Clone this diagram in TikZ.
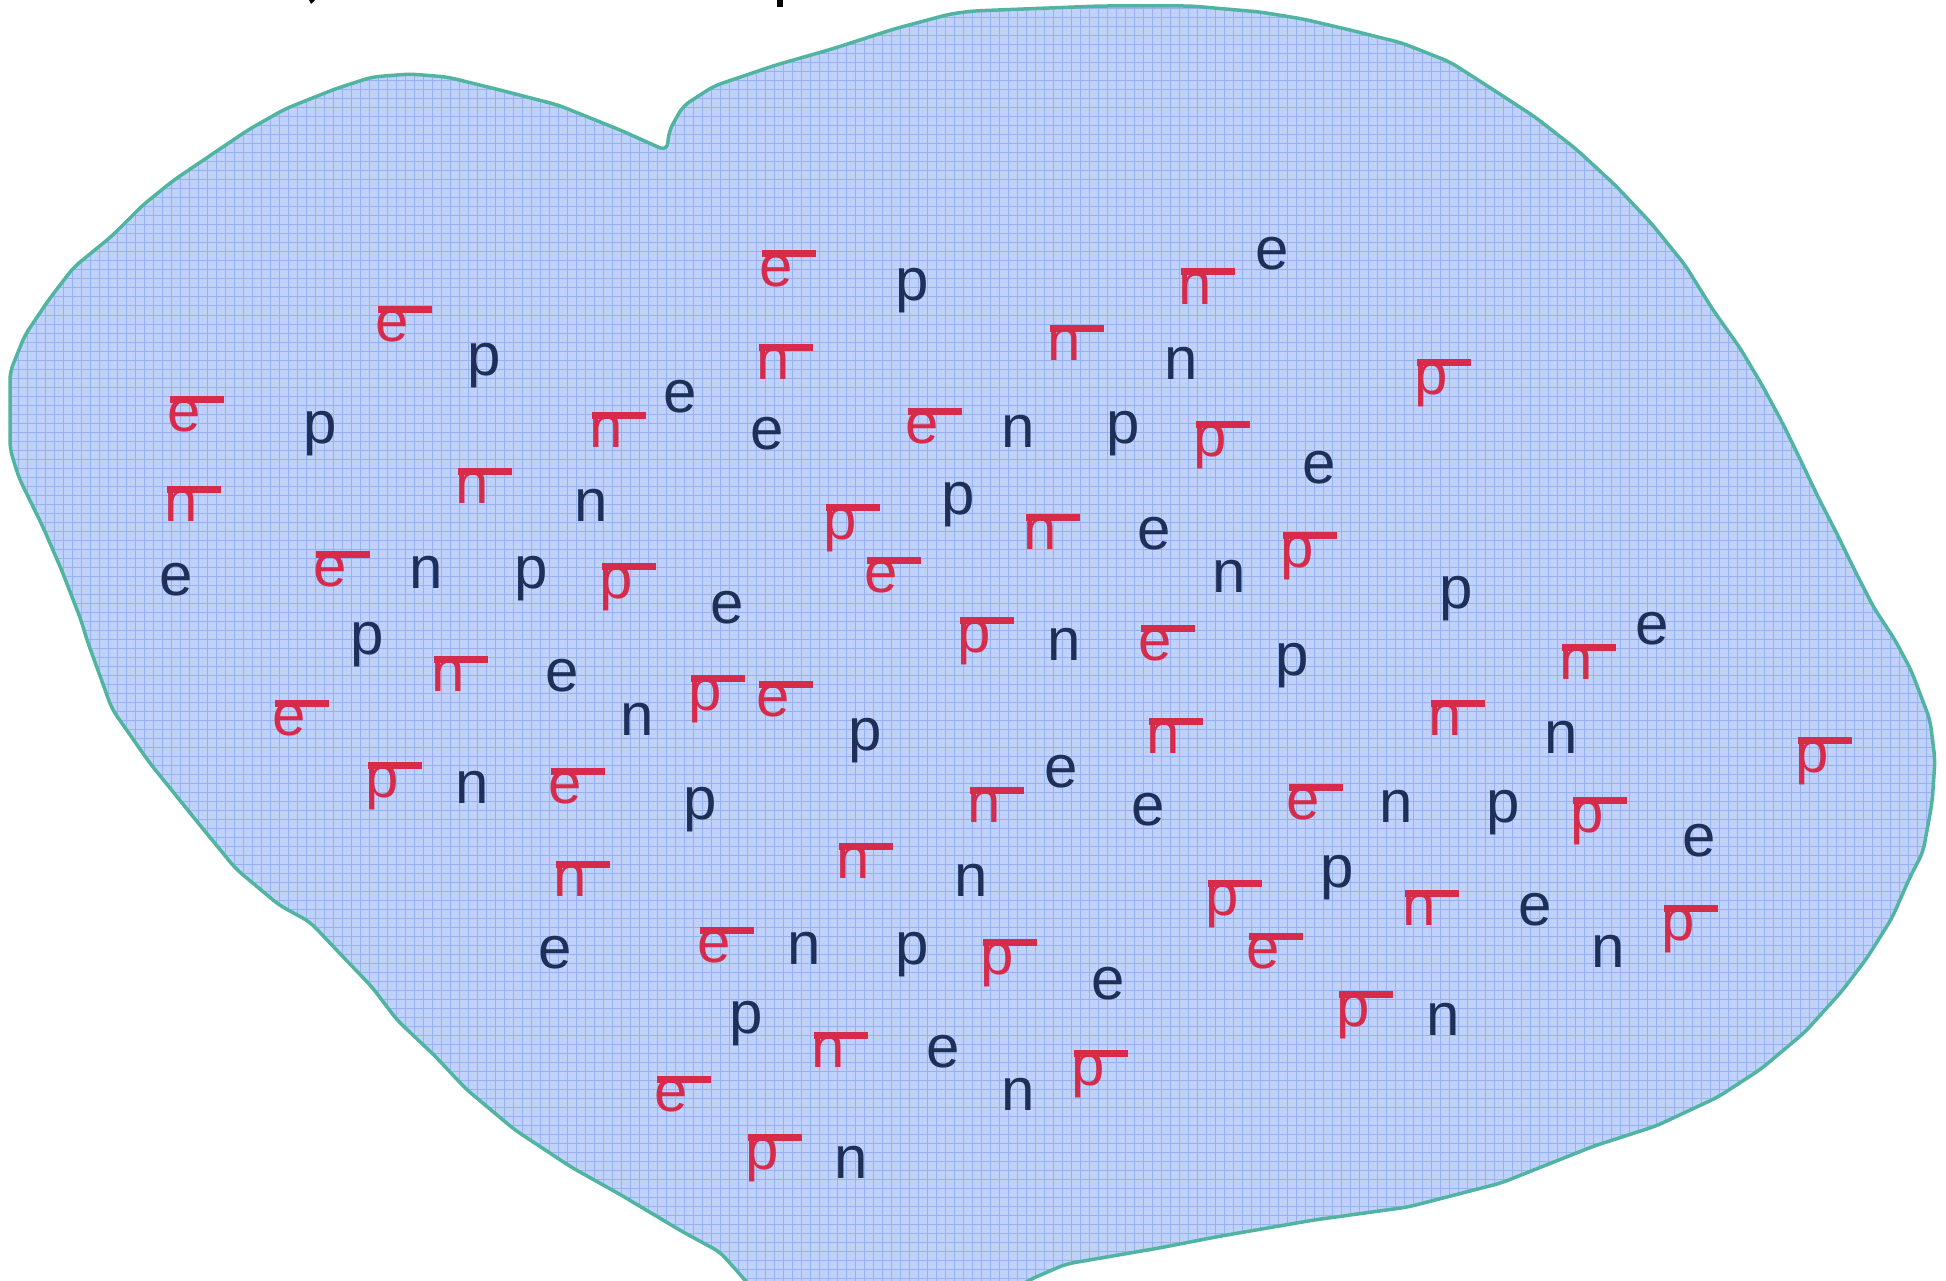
\documentclass[tikz,border=0pt]{standalone}
\usepackage{fontspec}
\setmainfont{Liberation Sans}
\definecolor{navy}{RGB}{30,48,88}
\definecolor{antired}{RGB}{214,43,74}
\definecolor{cellfill}{RGB}{192,210,250}
\definecolor{gridblue}{RGB}{150,178,245}
\definecolor{rim}{RGB}{80,180,160}
\newcommand\antibar[1]{\rlap{\kern3pt\rule[29pt]{54pt}{7pt}}#1}
\def\blobpath{(667,151) -- (669,131) -- (683,106) -- (714,86) -- (776,65) -- (832,49) -- (894,29) -- (950,14) -- (973,11) -- (1100,6) -- (1191,6) -- (1260,12) -- (1303,19) -- (1350,30) -- (1402,43) -- (1450,62) -- (1489,87) -- (1535,117) -- (1576,149) -- (1615,185) -- (1651,223) -- (1685,265) -- (1713,310) -- (1740,348) -- (1762,385) -- (1782,422) -- (1800,459) -- (1818,497) -- (1837,534) -- (1855,571) -- (1874,608) -- (1895,640) -- (1911,670) -- (1930,720) -- (1935,760) -- (1932,803) -- (1923,852) -- (1910,877) -- (1892,918) -- (1867,958) -- (1842,991) -- (1805,1032) -- (1761,1069) -- (1718,1097) -- (1656,1126) -- (1594,1146) -- (1501,1183) -- (1408,1207) -- (1314,1220) -- (1221,1236) -- (1159,1248) -- (1066,1264) -- (1029,1280) -- (1000,1300) -- (760,1300) -- (745,1280) -- (720,1252) -- (683,1232) -- (621,1195) -- (571,1167) -- (515,1130) -- (466,1089) -- (435,1056) -- (397,1020) -- (372,987) -- (348,962) -- (310,922) -- (279,905) -- (236,869) -- (199,824) -- (149,762) -- (112,709) -- (87,640) -- (81,620) -- (62,571) -- (43,527) -- (19,478) -- (10,449) -- (10,410) -- (10,372) -- (25,335) -- (50,298) -- (74,267) -- (112,236) -- (143,205) -- (174,180) -- (211,155) -- (248,130) -- (285,109) -- (335,89) -- (372,77) -- (410,74) -- (447,77) -- (496,89) -- (558,105) -- (620,130) -- cycle}
\begin{document}
\begin{tikzpicture}[x=1pt,y=-1pt,
  letter/.style={anchor=base, inner sep=0pt, yshift=-15.5pt, font=\fontsize{60}{60}\selectfont, text=navy},
  anti/.style={letter, text=antired}]
\useasboundingbox (0,0) rectangle (1946,1281);
\fill[white] (0,0) rectangle (1946,1281);
\begin{scope}
\clip (0,0) rectangle (1946,1281);
\fill[cellfill, rounded corners=8pt] \blobpath;
\begin{scope}
\clip[rounded corners=8pt] \blobpath;
\foreach \i in {0,9,...,1944} \draw[gridblue, line width=1pt] (\i,0) -- (\i,1300);
\foreach \j in {0,9,...,1296} \draw[gridblue, line width=1pt] (0,\j) -- (1946,\j);
\end{scope}
\draw[rim, line width=3.5pt, line join=round, rounded corners=8pt] \blobpath;
\end{scope}
% cut-off marks at the top edge
\fill[black] (309,0) -- (315,0) -- (311,4) -- cycle;
\fill[black] (777,0) rectangle (783,7);
% letters
\node[anti] (n1) at (776,271) {\antibar{e}};
\node[letter] (n2) at (912,285) {p};
\node[anti] (n3) at (1195,289) {\antibar{n}};
\node[letter] (n4) at (1272,254) {e};
\node[anti] (n5) at (392,326) {\antibar{e}};
\node[letter] (n6) at (484,360) {p};
\node[anti] (n7) at (773,364) {\antibar{n}};
\node[anti] (n8) at (1064,345) {\antibar{n}};
\node[letter] (n9) at (1181,364) {n};
\node[anti] (n10) at (1431,379) {\antibar{p}};
\node[anti] (n11) at (184,416) {\antibar{e}};
\node[letter] (n12) at (320,428) {p};
\node[anti] (n13) at (606,432) {\antibar{n}};
\node[letter] (n14) at (680,397) {e};
\node[letter] (n15) at (767,434) {e};
\node[anti] (n16) at (922,428) {\antibar{e}};
\node[letter] (n17) at (1018,432) {n};
\node[letter] (n18) at (1123,428) {p};
\node[anti] (n19) at (1210,441) {\antibar{p}};
\node[letter] (n20) at (1319,468) {e};
\node[anti] (n21) at (181,506) {\antibar{n}};
\node[anti] (n22) at (472,488) {\antibar{n}};
\node[letter] (n23) at (591,506) {n};
\node[anti] (n24) at (840,524) {\antibar{p}};
\node[letter] (n25) at (958,499) {p};
\node[anti] (n26) at (1040,534) {\antibar{n}};
\node[letter] (n27) at (1154,534) {e};
\node[anti] (n28) at (881,577) {\antibar{e}};
\node[anti] (n29) at (1297,552) {\antibar{p}};
\node[letter] (n30) at (1229,577) {n};
\node[letter] (n31) at (176,580) {e};
\node[anti] (n32) at (330,571) {\antibar{e}};
\node[letter] (n33) at (426,573) {n};
\node[letter] (n34) at (531,573) {p};
\node[anti] (n35) at (616,583) {\antibar{p}};
\node[letter] (n36) at (727,608) {e};
\node[letter] (n37) at (1456,593) {p};
\node[letter] (n38) at (367,639) {p};
\node[anti] (n39) at (974,637) {\antibar{p}};
\node[letter] (n40) at (1064,645) {n};
\node[anti] (n41) at (1155,645) {\antibar{e}};
\node[letter] (n42) at (1652,629) {e};
\node[anti] (n43) at (1576,664) {\antibar{n}};
\node[letter] (n44) at (1292,660) {p};
\node[anti] (n45) at (448,676) {\antibar{n}};
\node[letter] (n46) at (562,676) {e};
\node[anti] (n47) at (289,720) {\antibar{e}};
\node[letter] (n48) at (637,720) {n};
\node[anti] (n49) at (705,695) {\antibar{p}};
\node[anti] (n50) at (773,701) {\antibar{e}};
\node[letter] (n51) at (865,735) {p};
\node[anti] (n52) at (1163,738) {\antibar{n}};
\node[anti] (n53) at (1445,720) {\antibar{n}};
\node[letter] (n54) at (1561,738) {n};
\node[anti] (n55) at (1812,757) {\antibar{p}};
\node[anti] (n56) at (382,782) {\antibar{p}};
\node[letter] (n57) at (472,788) {n};
\node[anti] (n58) at (565,788) {\antibar{e}};
\node[letter] (n59) at (700,804) {p};
\node[letter] (n60) at (1061,772) {e};
\node[anti] (n61) at (984,807) {\antibar{n}};
\node[letter] (n62) at (1148,810) {e};
\node[anti] (n63) at (1303,804) {\antibar{e}};
\node[letter] (n64) at (1396,807) {n};
\node[letter] (n65) at (1503,807) {p};
\node[anti] (n66) at (1587,817) {\antibar{p}};
\node[letter] (n67) at (1699,841) {e};
\node[anti] (n68) at (570,881) {\antibar{n}};
\node[anti] (n69) at (853,863) {\antibar{n}};
\node[letter] (n70) at (971,881) {n};
\node[anti] (n71) at (1222,900) {\antibar{p}};
\node[letter] (n72) at (1337,872) {p};
\node[anti] (n73) at (1419,910) {\antibar{n}};
\node[letter] (n74) at (1535,910) {e};
\node[anti] (n75) at (1678,925) {\antibar{p}};
\node[letter] (n76) at (1608,952) {n};
\node[letter] (n77) at (555,953) {e};
\node[anti] (n78) at (714,947) {\antibar{e}};
\node[letter] (n79) at (804,949) {n};
\node[letter] (n80) at (912,949) {p};
\node[anti] (n81) at (997,959) {\antibar{p}};
\node[anti] (n82) at (1263,953) {\antibar{e}};
\node[letter] (n83) at (1108,984) {e};
\node[letter] (n84) at (746,1018) {p};
\node[anti] (n85) at (828,1052) {\antibar{n}};
\node[letter] (n86) at (943,1052) {e};
\node[anti] (n87) at (1353,1011) {\antibar{p}};
\node[letter] (n88) at (1443,1020) {n};
\node[anti] (n89) at (671,1096) {\antibar{e}};
\node[letter] (n90) at (1018,1095) {n};
\node[anti] (n91) at (1088,1070) {\antibar{p}};
\node[anti] (n92) at (762,1154) {\antibar{p}};
\node[letter] (n93) at (851,1163) {n};
\end{tikzpicture}
\end{document}
